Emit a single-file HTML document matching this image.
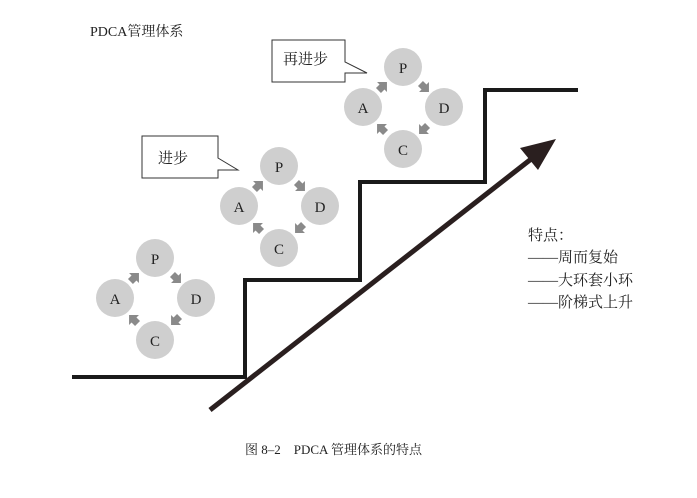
<!DOCTYPE html>
<html><head><meta charset="utf-8"><style>
body{margin:0;background:#fff;}
svg text{font-family:"Liberation Serif","Noto Serif CJK SC",serif;fill:#222;}
</style></head><body>
<svg width="697" height="493" viewBox="0 0 697 493" xmlns="http://www.w3.org/2000/svg">
<defs>
<g id="ar"><polygon points="-5,-3.5 0,-3.5 0,-7 7,0 0,7 0,3.5 -5,3.5" fill="#8a8a8a"/></g>
<g id="pdca">
<circle cx="0" cy="0" r="19" fill="#cfcfcf"/>
<circle cx="41" cy="40" r="19" fill="#cfcfcf"/>
<circle cx="0" cy="82" r="19" fill="#cfcfcf"/>
<circle cx="-40" cy="40" r="19" fill="#cfcfcf"/>
<text x="0" y="6" font-size="15" text-anchor="middle">P</text>
<text x="41" y="46" font-size="15" text-anchor="middle">D</text>
<text x="0" y="88" font-size="15" text-anchor="middle">C</text>
<text x="-40" y="46" font-size="15" text-anchor="middle">A</text>
<use href="#ar" transform="translate(21,20) rotate(45)"/>
<use href="#ar" transform="translate(21,62) rotate(135)"/>
<use href="#ar" transform="translate(-21,62) rotate(225)"/>
<use href="#ar" transform="translate(-21,20) rotate(315)"/>
</g>
</defs>
<text x="90" y="36" font-size="14">PDCA管理体系</text>
<polyline points="72,377 245,377 245,280 360,280 360,182 485,182 485,90 578,90" fill="none" stroke="#1a1a1a" stroke-width="4"/>
<line x1="210" y1="410" x2="535" y2="156" stroke="#2a1f1f" stroke-width="5"/>
<polygon points="556,139 520,148 538,170" fill="#2a1f1f"/>
<use href="#pdca" transform="translate(155,258)"/>
<use href="#pdca" transform="translate(279,166)"/>
<use href="#pdca" transform="translate(403,67)"/>
<path d="M142,136 L218,136 L218,158 L238,170 L218,170 L218,178 L142,178 Z" fill="#fff" stroke="#333" stroke-width="1"/>
<text x="158" y="163" font-size="15">进步</text>
<path d="M272,40 L345,40 L345,62 L367,73 L345,73 L345,82 L272,82 Z" fill="#fff" stroke="#333" stroke-width="1"/>
<text x="283" y="64" font-size="15">再进步</text>
<text x="528" y="240" font-size="15">特点：</text>
<text x="528" y="262" font-size="15">——周而复始</text>
<text x="528" y="285" font-size="15">——大环套小环</text>
<text x="528" y="307" font-size="15">——阶梯式上升</text>
<text x="245" y="454" font-size="13">图 8–2　PDCA 管理体系的特点</text>
</svg>
</body></html>
